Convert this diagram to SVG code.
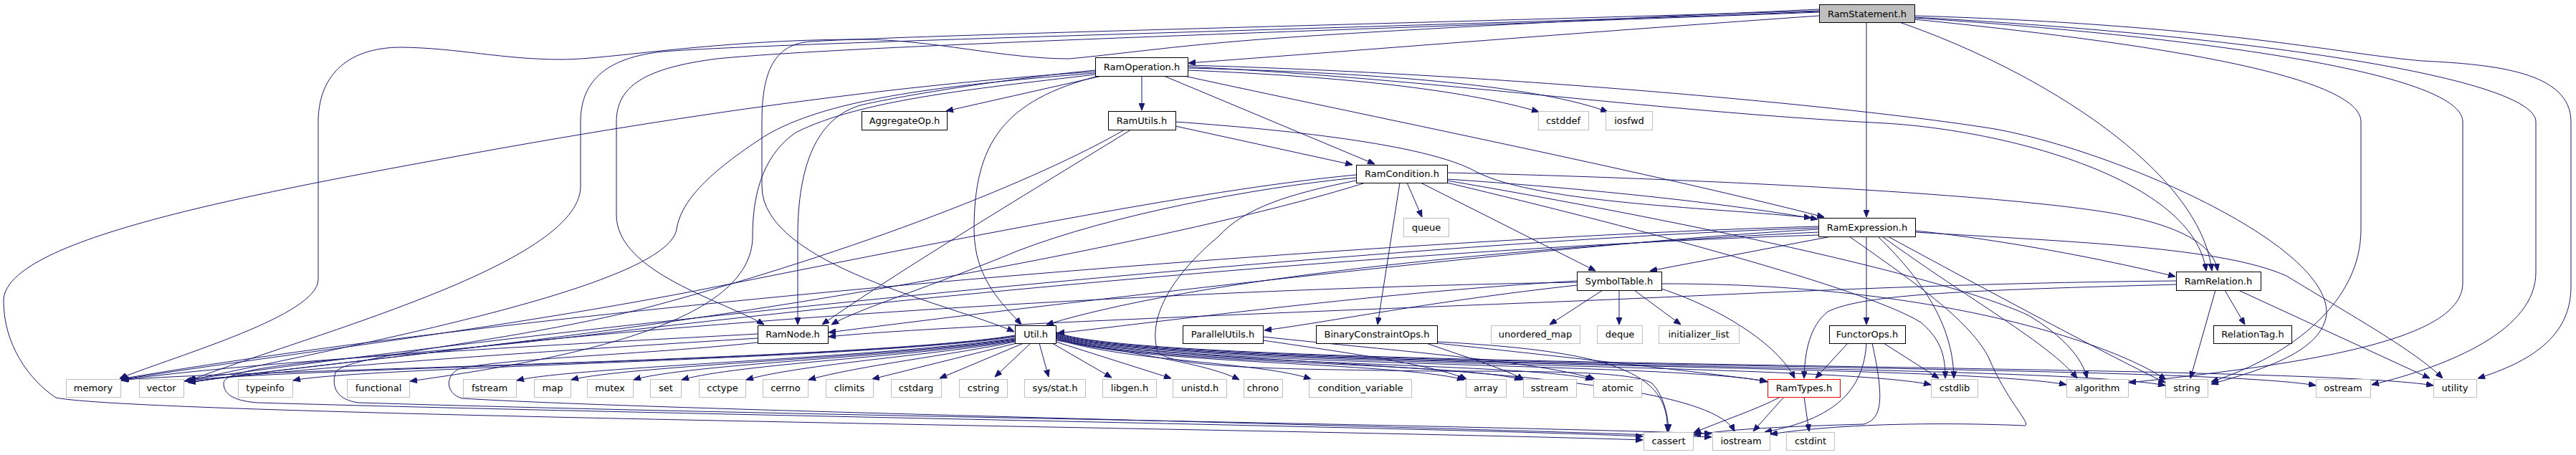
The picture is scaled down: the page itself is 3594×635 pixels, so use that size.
<svg xmlns="http://www.w3.org/2000/svg" width="3594" height="635" viewBox="0 0 3594 635">
<style>
.e{fill:none;stroke:#191970;stroke-width:1;marker-end:url(#a)}
.p{fill:#fff;stroke:#000;stroke-width:1}
.s{fill:#fff;stroke:#bfbfbf;stroke-width:1}
.r{fill:#fff;stroke:#ff0000;stroke-width:1}
.c{fill:#bfbfbf;stroke:#000;stroke-width:1}
text{font-family:"DejaVu Sans","Liberation Sans",sans-serif;font-size:13px;text-anchor:middle;fill:#000}
</style>
<defs>
<marker id="a" viewBox="0 0 10 8" refX="10" refY="4" markerWidth="10" markerHeight="8" orient="auto" markerUnits="userSpaceOnUse"><path d="M0,0 L10,4 L0,8 z" fill="#191970" stroke="#191970"/></marker>
</defs>
<rect width="3594" height="635" fill="#fff"/>
<g id="edges">
<path class="e" d="M2538,22 C2250,42 1900,70 1658,88"/>
<path class="e" d="M2604,31 L2604,303"/>
<path class="e" d="M2650,31 C2850,100 3070,240 3086,378"/>
<path class="e" d="M2538,17 C2000,38 1200,62 1000,82 C900,95 860,120 860,170 L860,300 C860,380 1010,420 1066,453"/>
<path class="e" d="M2538,15 C2000,32 1300,48 1130,58 C1080,62 1063,100 1063,170 L1063,260 C1063,370 1330,425 1415,463"/>
<path class="e" d="M2538,13 C2200,28 1900,45 1800,52 C1650,62 1560,76 1491,82 C1400,82 1300,55 1200,55 C1000,55 850,83 784,83 C700,83 640,67 560,66 C480,66 444,110 444,170 L444,390 C444,440 250,495 167,528"/>
<path class="e" d="M2538,16 C2100,34 1100,58 925,72 C850,80 810,110 810,170 L810,260 C810,370 420,470 262,532"/>
<path class="e" d="M2671,27 C2950,55 3294,100 3294,170 L3294,320 C3294,420 3200,495 3085,533"/>
<path class="e" d="M2671,25 C3050,50 3436,100 3436,170 L3436,395 C3436,470 3250,505 2970,534"/>
<path class="e" d="M2671,24 C3150,50 3538,110 3538,170 L3538,380 C3538,460 3420,510 3309,537"/>
<path class="e" d="M2671,22 C3100,35 3260,75 3380,85 C3480,90 3587,100 3587,170 L3587,400 C3587,470 3530,505 3457,528"/>
<path class="e" d="M1537,106 L1320,155"/>
<path class="e" d="M1593,106 L1593,154"/>
<path class="e" d="M1624,106 L1918,229"/>
<path class="e" d="M1640,176 L1887,230"/>
<path class="e" d="M1652,106 C1900,160 2300,240 2545,303"/>
<path class="e" d="M1657,98 C1900,108 2050,128 2147,156"/>
<path class="e" d="M1657,95 C1950,102 2150,122 2243,156"/>
<path class="e" d="M1657,93 C2000,110 2300,155 2630,172 C2800,182 3060,250 3078,378"/>
<path class="e" d="M1657,91 C2100,103 2600,150 2783,180 C2950,210 3250,340 3246,438 C3240,490 3160,515 3085,536"/>
<path class="e" d="M1528,98 C1400,110 1250,135 1200,147 C1140,165 1113,230 1113,330 L1113,453"/>
<path class="e" d="M1533,106 C1400,140 1359,200 1359,320 C1359,390 1400,425 1425,453"/>
<path class="e" d="M1528,102 C1300,120 1150,140 1067,190 C990,240 950,280 944,320 C930,400 500,480 263,531"/>
<path class="e" d="M1528,104 C1350,125 1200,140 1110,185 C1060,220 1050,280 1050,330 C1050,450 800,500 572,532"/>
<path class="e" d="M1528,100 C1300,115 1000,150 600,225 C300,280 5,340 5,420 C5,480 40,530 78,555 C200,580 1800,598 2292,614"/>
<path class="e" d="M1640,170 C1780,180 1990,200 2060,240 C2150,285 2400,290 2527,304"/>
<path class="e" d="M1578,181 C1450,260 1250,380 1147,453"/>
<path class="e" d="M1569,181 C1450,250 1200,350 900,430 C700,480 480,495 468,520 C462,540 470,558 500,562 C1100,580 1900,590 2388,605"/>
<path class="e" d="M1963,255 L1984,303"/>
<path class="e" d="M1953,255 L1922,453"/>
<path class="e" d="M1982,255 L2226,378"/>
<path class="e" d="M2019,250 C2200,262 2400,282 2536,306"/>
<path class="e" d="M2019,241 C2400,250 2800,272 2950,298 C3040,315 3088,340 3094,378"/>
<path class="e" d="M1892,248 C1750,262 1550,300 1420,350 C1300,400 1200,430 1160,453"/>
<path class="e" d="M1892,244 C1700,262 1400,320 1000,400 C700,460 350,500 168,530"/>
<path class="e" d="M1905,255 C1700,320 1200,420 700,480 C500,505 350,520 263,534"/>
<path class="e" d="M1892,252 C1800,270 1736,290 1700,330 C1640,380 1600,440 1615,490 C1630,515 1800,515 2000,518 C2150,518 2280,518 2305,535 C2320,550 2328,580 2328,602"/>
<path class="e" d="M2019,255 C2250,310 2600,400 2680,450 C2710,475 2714,500 2714,528"/>
<path class="e" d="M2019,252 C2300,300 2700,380 2830,440 C2880,470 2905,500 2912,528"/>
<path class="e" d="M2555,330 L2302,378"/>
<path class="e" d="M2604,330 L2604,453"/>
<path class="e" d="M2672,322 C2800,335 2950,365 3035,386"/>
<path class="e" d="M2620,330 C2690,398 2725,460 2726,528"/>
<path class="e" d="M2626,330 C2750,420 2860,480 2898,528"/>
<path class="e" d="M2634,330 C2800,420 2950,500 3021,534"/>
<path class="e" d="M2672,324 C2900,338 3100,345 3190,385 C3280,440 3370,490 3408,528"/>
<path class="e" d="M2537,320 C2200,338 1500,420 1156,464"/>
<path class="e" d="M2537,324 C2200,340 1700,380 1460,453"/>
<path class="e" d="M2537,316 C2000,330 800,420 168,529"/>
<path class="e" d="M2537,318 C2000,335 900,440 263,530"/>
<path class="e" d="M2580,330 C2680,400 2750,450 2775,500 C2800,560 2835,592 2825,594 C2780,592 2600,586 2470,606"/>
<path class="e" d="M2537,328 C2000,345 1300,410 800,470 C550,500 312,505 312,535 C312,552 330,560 360,562 C900,578 2000,596 2292,609"/>
<path class="e" d="M2236,405 L2162,453"/>
<path class="e" d="M2259,405 L2259,453"/>
<path class="e" d="M2280,405 L2345,453"/>
<path class="e" d="M2200,398 C2000,420 1850,450 1764,461"/>
<path class="e" d="M2318,403 C2400,430 2480,480 2504,528"/>
<path class="e" d="M2200,392 C1900,410 1600,452 1475,465"/>
<path class="e" d="M2318,396 C2700,395 2950,480 3022,530"/>
<path class="e" d="M2200,394 C1800,400 1200,430 700,480 C500,505 350,520 263,534"/>
<path class="e" d="M1057,466 C800,480 400,500 170,530"/>
<path class="e" d="M1057,472 C800,488 450,510 262,533"/>
<path class="e" d="M1057,478 C900,495 700,500 640,515 C620,525 622,550 645,556 C900,572 1900,592 2388,610"/>
<path class="e" d="M1418,479 L1217,529"/>
<path class="e" d="M1416,477 C1330,495 1200,510 1128,530"/>
<path class="e" d="M1416,476 C1300,496 1120,508 1041,530"/>
<path class="e" d="M1416,475 C1280,497 1030,508 951,530"/>
<path class="e" d="M1416,474 C1260,498 960,508 884,530"/>
<path class="e" d="M1416,473 C1240,499 880,510 797,530"/>
<path class="e" d="M1416,472 C1220,500 800,512 721,531"/>
<path class="e" d="M1416,470 C1200,502 500,512 409,531"/>
<path class="e" d="M1416,469 C1200,503 350,515 257,532"/>
<path class="e" d="M1416,468 C1200,504 250,518 169,531"/>
<path class="e" d="M1428,479 L1311,528"/>
<path class="e" d="M1438,479 L1388,526"/>
<path class="e" d="M1450,479 L1463,526"/>
<path class="e" d="M1468,479 L1551,527"/>
<path class="e" d="M1473,477 L1634,528"/>
<path class="e" d="M1473,475 C1600,495 1690,510 1729,530"/>
<path class="e" d="M1473,473 C1570,505 1760,505 1829,529"/>
<path class="e" d="M1473,472 C1570,508 1950,505 2043,530"/>
<path class="e" d="M1473,471 C1570,509 2040,505 2123,530"/>
<path class="e" d="M1473,470 C1570,510 2140,505 2222,530"/>
<path class="e" d="M1473,469 C1570,512 2370,500 2420,602"/>
<path class="e" d="M1473,468 C1570,512 2350,505 2466,533"/>
<path class="e" d="M1473,467 C1570,513 2550,505 2694,537"/>
<path class="e" d="M1473,466 C1570,514 2720,505 2883,537"/>
<path class="e" d="M1473,465 C1570,515 2860,505 3021,538"/>
<path class="e" d="M1473,464 C1570,516 3050,505 3231,538"/>
<path class="e" d="M1473,463 C1570,517 3200,505 3395,538"/>
<path class="e" d="M1762,470 C1950,490 2150,505 2225,529"/>
<path class="e" d="M1762,475 C1900,495 2000,510 2046,529"/>
<path class="e" d="M2005,477 C2250,490 2330,520 2326,602"/>
<path class="e" d="M2005,479 C2200,500 2380,520 2465,532"/>
<path class="e" d="M1990,479 C2050,500 2100,515 2126,530"/>
<path class="e" d="M2484,554 C2450,572 2400,588 2363,604"/>
<path class="e" d="M2489,554 L2446,602"/>
<path class="e" d="M2517,554 L2524,602"/>
<path class="e" d="M2578,479 L2533,528"/>
<path class="e" d="M2628,479 L2705,528"/>
<path class="e" d="M2604,479 C2600,545 2560,585 2462,603"/>
<path class="e" d="M2612,479 C2630,560 2625,585 2600,592 C2500,595 2420,598 2363,607"/>
<path class="e" d="M3104,405 L3132,453"/>
<path class="e" d="M3091,405 L3056,528"/>
<path class="e" d="M3123,405 L3390,528"/>
<path class="e" d="M3036,397 C2750,405 2600,410 2550,435 C2525,455 2518,490 2517,528"/>
<path class="e" d="M3036,392 C2700,395 2400,412 2200,420 C1800,436 1300,455 1156,470"/>
</g>
<g id="n-RamStatement"><rect class="c" x="2538.5" y="6.5" width="133" height="25"/><text x="2605" y="23.5">RamStatement.h</text></g>
<g id="n-RamOperation"><rect class="p" x="1528.5" y="80.5" width="129" height="26"/><text x="1593" y="98">RamOperation.h</text></g>
<g id="n-AggregateOp"><rect class="p" x="1202.5" y="155.5" width="119" height="26"/><text x="1262" y="173">AggregateOp.h</text></g>
<g id="n-RamUtils"><rect class="p" x="1546.5" y="155.5" width="94" height="26"/><text x="1593" y="173">RamUtils.h</text></g>
<g id="n-cstddef"><rect class="s" x="2146.5" y="155.5" width="70" height="26"/><text x="2181" y="173">cstddef</text></g>
<g id="n-iosfwd"><rect class="s" x="2240.5" y="155.5" width="65" height="26"/><text x="2273" y="173">iosfwd</text></g>
<g id="n-RamCondition"><rect class="p" x="1892.5" y="230.5" width="127" height="25"/><text x="1956" y="247">RamCondition.h</text></g>
<g id="n-queue"><rect class="s" x="1958.5" y="304.5" width="63" height="26"/><text x="1990" y="322">queue</text></g>
<g id="n-RamExpression"><rect class="p" x="2537.5" y="304.5" width="135" height="26"/><text x="2605" y="322">RamExpression.h</text></g>
<g id="n-SymbolTable"><rect class="p" x="2200.5" y="379.5" width="118" height="26"/><text x="2259" y="397">SymbolTable.h</text></g>
<g id="n-RamRelation"><rect class="p" x="3036.5" y="379.5" width="118" height="26"/><text x="3095" y="397">RamRelation.h</text></g>
<g id="n-RamNode"><rect class="p" x="1057.5" y="454.5" width="98" height="25"/><text x="1106" y="471">RamNode.h</text></g>
<g id="n-Util"><rect class="p" x="1416.5" y="454.5" width="57" height="25"/><text x="1445" y="471">Util.h</text></g>
<g id="n-ParallelUtils"><rect class="p" x="1650.5" y="454.5" width="112" height="25"/><text x="1706" y="471">ParallelUtils.h</text></g>
<g id="n-BinaryConstraintOps"><rect class="p" x="1836.5" y="454.5" width="169" height="25"/><text x="1921" y="471">BinaryConstraintOps.h</text></g>
<g id="n-unordered_map"><rect class="s" x="2080.5" y="454.5" width="124" height="25"/><text x="2142" y="471">unordered_map</text></g>
<g id="n-deque"><rect class="s" x="2228.5" y="454.5" width="63" height="25"/><text x="2260" y="471">deque</text></g>
<g id="n-initializer_list"><rect class="s" x="2314.5" y="454.5" width="112" height="25"/><text x="2370" y="471">initializer_list</text></g>
<g id="n-FunctorOps"><rect class="p" x="2552.5" y="454.5" width="106" height="25"/><text x="2605" y="471">FunctorOps.h</text></g>
<g id="n-RelationTag"><rect class="p" x="3088.5" y="454.5" width="109" height="25"/><text x="3143" y="471">RelationTag.h</text></g>
<g id="n-memory"><rect class="s" x="92.5" y="529.5" width="76" height="25"/><text x="130" y="546">memory</text></g>
<g id="n-vector"><rect class="s" x="194.5" y="529.5" width="62" height="25"/><text x="225" y="546">vector</text></g>
<g id="n-typeinfo"><rect class="s" x="332.5" y="529.5" width="76" height="25"/><text x="370" y="546">typeinfo</text></g>
<g id="n-functional"><rect class="s" x="484.5" y="529.5" width="87" height="25"/><text x="528" y="546">functional</text></g>
<g id="n-fstream"><rect class="s" x="646.5" y="529.5" width="74" height="25"/><text x="683" y="546">fstream</text></g>
<g id="n-map"><rect class="s" x="745.5" y="529.5" width="51" height="25"/><text x="771" y="546">map</text></g>
<g id="n-mutex"><rect class="s" x="819.5" y="529.5" width="64" height="25"/><text x="851" y="546">mutex</text></g>
<g id="n-set"><rect class="s" x="907.5" y="529.5" width="43" height="25"/><text x="929" y="546">set</text></g>
<g id="n-cctype"><rect class="s" x="975.5" y="529.5" width="65" height="25"/><text x="1008" y="546">cctype</text></g>
<g id="n-cerrno"><rect class="s" x="1064.5" y="529.5" width="63" height="25"/><text x="1096" y="546">cerrno</text></g>
<g id="n-climits"><rect class="s" x="1152.5" y="529.5" width="66" height="25"/><text x="1185" y="546">climits</text></g>
<g id="n-cstdarg"><rect class="s" x="1243.5" y="529.5" width="70" height="25"/><text x="1278" y="546">cstdarg</text></g>
<g id="n-cstring"><rect class="s" x="1338.5" y="529.5" width="67" height="25"/><text x="1372" y="546">cstring</text></g>
<g id="n-sysstat"><rect class="s" x="1429.5" y="529.5" width="85" height="25"/><text x="1472" y="546">sys/stat.h</text></g>
<g id="n-libgen"><rect class="s" x="1538.5" y="529.5" width="75" height="25"/><text x="1576" y="546">libgen.h</text></g>
<g id="n-unistd"><rect class="s" x="1636.5" y="529.5" width="75" height="25"/><text x="1674" y="546">unistd.h</text></g>
<g id="n-chrono"><rect class="s" x="1735.5" y="529.5" width="54" height="25"/><text x="1762" y="546">chrono</text></g>
<g id="n-condition_variable"><rect class="s" x="1826.5" y="529.5" width="143" height="25"/><text x="1898" y="546">condition_variable</text></g>
<g id="n-array"><rect class="s" x="2045.5" y="529.5" width="56" height="25"/><text x="2073" y="546">array</text></g>
<g id="n-sstream"><rect class="s" x="2125.5" y="529.5" width="74" height="25"/><text x="2162" y="546">sstream</text></g>
<g id="n-atomic"><rect class="s" x="2223.5" y="529.5" width="67" height="25"/><text x="2257" y="546">atomic</text></g>
<g id="n-RamTypes"><rect class="r" x="2466.5" y="529.5" width="101" height="25"/><text x="2517" y="546">RamTypes.h</text></g>
<g id="n-cstdlib"><rect class="s" x="2694.5" y="529.5" width="65" height="25"/><text x="2727" y="546">cstdlib</text></g>
<g id="n-algorithm"><rect class="s" x="2883.5" y="529.5" width="86" height="25"/><text x="2926" y="546">algorithm</text></g>
<g id="n-string"><rect class="s" x="3021.5" y="529.5" width="59" height="25"/><text x="3051" y="546">string</text></g>
<g id="n-ostream"><rect class="s" x="3231.5" y="529.5" width="76" height="25"/><text x="3269" y="546">ostream</text></g>
<g id="n-utility"><rect class="s" x="3395.5" y="529.5" width="60" height="25"/><text x="3425" y="546">utility</text></g>
<g id="n-cassert"><rect class="s" x="2293.5" y="603.5" width="69" height="25"/><text x="2328" y="620">cassert</text></g>
<g id="n-iostream"><rect class="s" x="2389.5" y="603.5" width="80" height="25"/><text x="2429" y="620">iostream</text></g>
<g id="n-cstdint"><rect class="s" x="2492.5" y="603.5" width="67" height="25"/><text x="2526" y="620">cstdint</text></g>
</svg>
